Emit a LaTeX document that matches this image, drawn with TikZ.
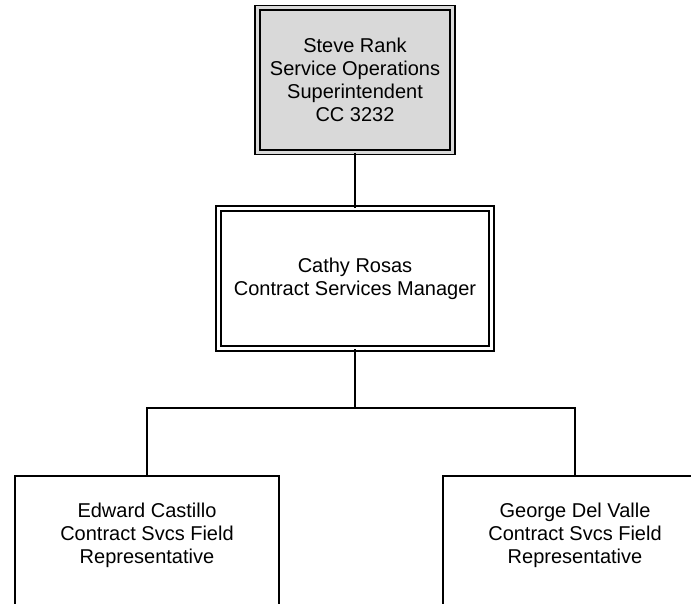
\documentclass[tikz,border=0pt]{standalone}
\usepackage{fontspec}
\setmainfont{Liberation Sans}
\usepackage{xcolor}
\usepackage{tikz}
\usetikzlibrary{positioning,calc}
\definecolor{boxgray}{RGB}{217,217,217}
\tikzset{
  % --- org boxes ---------------------------------------------------------------
  chart/.style={font=\fontsize{20}{23}\selectfont,align=center,inner sep=0pt},
  boss/.style={chart,rectangle,draw=black,fill=boxgray,double=boxgray,
               line width=1.6pt,double distance=3pt},          % superintendent
  mgr/.style={chart,rectangle,draw=black,double=white,
              line width=1.6pt,double distance=3pt},          % manager
  rep/.style={chart,rectangle,draw=black,line width=2pt,anchor=north,
              minimum width=264pt,minimum height=150pt},       % field reps
  reptext/.style={chart},
  % --- reporting lines ---------------------------------------------------------
  link/.style={black,line width=1.5pt},
}

\begin{document}
\begin{tikzpicture}[x=1pt, y=-1pt]
  \useasboundingbox (0,0) rectangle (691,603);
  \clip (0,0) rectangle (691,603);

  \node[boss,minimum width=195pt,minimum height=144.5pt] (sr) at (355,80)
    {Steve Rank\\Service Operations\\Superintendent\\CC 3232};
  \node[mgr,minimum width=273pt,minimum height=140pt] (cr) at (355,278.5)
    {Cathy Rosas\\Contract Services Manager};

  % field representatives (boxes run past the lower edge)
  \node[rep] (ec) at (147,475) {};
  \node[rep] (gd) at (575,475) {};
  \node[reptext] (ectext) at ([yshift=-60pt]ec.north)
    {Edward Castillo\\Contract Svcs Field\\Representative};
  \node[reptext] (gdtext) at ([yshift=-60pt]gd.north)
    {George Del Valle\\Contract Svcs Field\\Representative};

  % reporting lines
  \coordinate (bus) at (355,408);
  \draw[link] (sr) -- (cr);
  \draw[link] (cr) -- (bus);
  \draw[link] (bus) -| (ec.north);
  \draw[link] (bus) -| (gd.north);
\end{tikzpicture}
\end{document}
